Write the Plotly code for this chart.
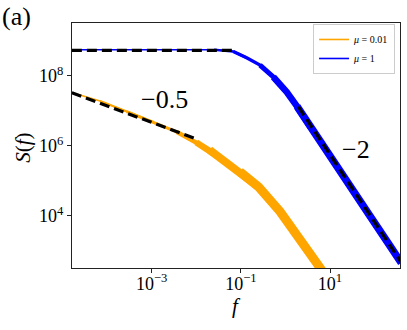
import plotly.graph_objects as go

# ─────────────────────────────────────────────
# 数据（读图估计，log10 坐标）
# ─────────────────────────────────────────────

# μ = 0.01（橙色）
orange_log_f = [-4.78, -4.16, -3.56, -2.96, -2.44, -2.0, -1.7, -1.47, -1.02,
                -0.6, -0.12, 0.26, 0.56, 0.8, 1.1]
orange_log_S = [7.52, 7.28, 6.98, 6.68, 6.40, 6.10, 5.88, 5.66, 5.26,
                4.82, 4.12, 3.48, 2.92, 2.47, 1.85]

# μ = 1（蓝色）
blue_log_f = [-4.79, -4.0, -3.0, -2.2, -1.6, -1.17, -0.87, -0.57, -0.27,
              0.03, 0.26, 0.56, 1.0, 1.46, 1.91, 2.36, 2.6]
blue_log_S = [8.75, 8.75, 8.75, 8.74, 8.75, 8.70, 8.52, 8.31, 7.97,
              7.54, 7.13, 6.54, 5.69, 4.83, 3.97, 3.11, 2.65]

# 参考虚线：平台、斜率 -0.5、斜率 -2
flat_log_f = [-4.79, -1.13]
flat_log_S = [8.73, 8.73]
half_log_f = [-4.79, -2.03]
half_log_S = [7.52, 6.21]
two_log_f = [0.29, 2.6]
two_log_S = [7.12, 2.66]

slope_labels = ["−0.5", "−2"]

x_tickvals = [1e-3, 1e-1, 1e1]
x_ticktext = ["10<sup>−3</sup>", "10<sup>−1</sup>", "10<sup>1</sup>"]
y_tickvals = [1e4, 1e6, 1e8]
y_ticktext = ["10<sup>4</sup>", "10<sup>6</sup>", "10<sup>8</sup>"]

FONT = "Liberation Serif, Times New Roman, serif"


def pw(vals):
    return [10 ** v for v in vals]


def add_band(fig, log_f, log_S, color, name, breaks, widths):
    """按频段分段绘制，高频段线更粗（模拟噪声带）"""
    for k, w in enumerate(widths):
        lo, hi = breaks[k], breaks[k + 1]
        idx = [i for i, v in enumerate(log_f) if lo <= v < hi]
        if not idx:
            continue
        # 与前后段首尾相连
        if idx[0] > 0:
            idx = [idx[0] - 1] + idx
        if idx[-1] < len(log_f) - 1:
            idx = idx + [idx[-1] + 1]
        fig.add_trace(go.Scatter(
            x=pw([log_f[i] for i in idx]), y=pw([log_S[i] for i in idx]),
            mode='lines', name=name, showlegend=False,
            line=dict(color=color, width=w),
        ))
    # 图例条目（细线）
    fig.add_trace(go.Scatter(
        x=[None], y=[None], mode='lines', name=name,
        line=dict(color=color, width=1.6),
    ))


fig = go.Figure()

add_band(fig, orange_log_f, orange_log_S, 'orange', '<i>μ</i> = 0.01',
         [-9, -3.6, -3.0, -2.4, -1.9, -1.5, -1.0, 9],
         [1.6, 2.2, 3, 4.5, 6.5, 8, 9])
add_band(fig, blue_log_f, blue_log_S, 'blue', '<i>μ</i> = 1',
         [-9, -1.2, -0.9, -0.5, 0.0, 0.5, 9],
         [1.6, 2.5, 3.5, 5, 6.5, 7.5])

for lf, ls in [(flat_log_f, flat_log_S), (half_log_f, half_log_S), (two_log_f, two_log_S)]:
    fig.add_trace(go.Scatter(
        x=pw(lf), y=pw(ls), mode='lines', showlegend=False,
        line=dict(color='black', width=3.2, dash='10px,5px'),
    ))

axis_common = dict(
    type='log', showgrid=False, zeroline=False,
    showline=True, mirror=True, linecolor='#222', linewidth=1,
    ticks='outside', ticklen=4, tickwidth=1, tickcolor='#222',
    tickfont=dict(family=FONT, size=18, color='black'),
)

fig.update_xaxes(range=[-4.787, 2.57], tickvals=x_tickvals, ticktext=x_ticktext,
                 ticklabelstandoff=-5, **axis_common)
fig.update_yaxes(range=[2.506, 9.514], tickvals=y_tickvals, ticktext=y_ticktext,
                 **axis_common)

annotations = [
    dict(text="(a)", x=-0.2195, y=1.094, xanchor='left', yanchor='top',
         font=dict(size=26)),
    dict(text=slope_labels[0], x=0.2835, y=0.686, font=dict(size=26)),
    dict(text=slope_labels[1], x=0.866, y=0.482, font=dict(size=26)),
    dict(text="<i>S</i>(<i>f</i>)", x=-0.15, y=0.49, textangle=-90,
         font=dict(size=21)),
    dict(text="<i>f</i>", x=0.5, y=-0.155, font=dict(size=21)),
]
for a in annotations:
    a.update(xref='paper', yref='paper', showarrow=False)
    a.setdefault('xanchor', 'center')
    a.setdefault('yanchor', 'middle')
    a['font'].update(family=FONT, color='black')

fig.update_layout(
    width=407, height=330,
    margin=dict(l=72, r=7, t=23, b=62, autoexpand=False),
    plot_bgcolor='white', paper_bgcolor='white',
    font=dict(family=FONT, size=16, color='black'),
    annotations=annotations,
    legend=dict(
        x=0.735, y=0.996, xanchor='left', yanchor='top',
        bordercolor='#cccccc', borderwidth=1, bgcolor='rgba(255,255,255,0.8)',
        font=dict(family=FONT, size=10), itemwidth=30, tracegroupgap=0,
    ),
)

# 去掉页面默认 8px 边距，让图从左上角开始；隐藏工具栏
fig.write_html("out.html", config={'displayModeBar': False},
               post_script="document.body.style.margin='0';")
